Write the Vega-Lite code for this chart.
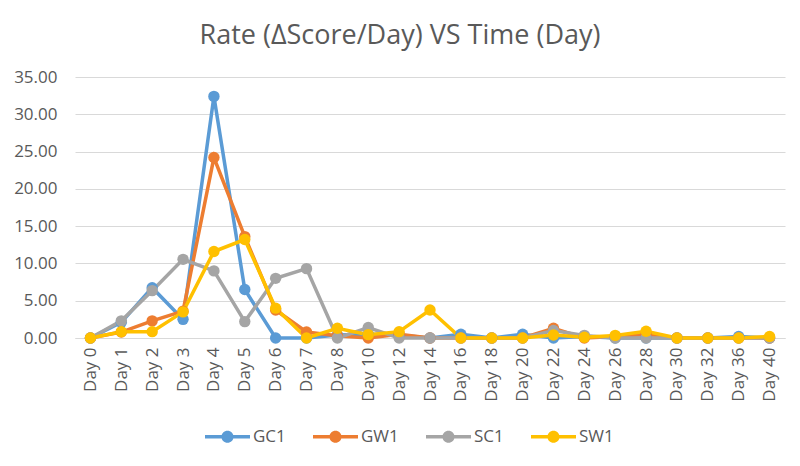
{
  "$schema": "https://vega.github.io/schema/vega-lite/v6.json",
  "width": 710,
  "height": 261,
  "autosize": {"type": "none"},
  "padding": {"left": 75, "top": 77, "right": 15, "bottom": 128},
  "background": "white",
  "title": {
    "text": "Rate (ΔScore/Day) VS Time (Day)",
    "anchor": "middle",
    "frame": "group",
    "dx": -30,
    "offset": 18,
    "font": "Open Sans",
    "fontSize": 27,
    "fontWeight": "normal",
    "color": "#595959"
  },
  "config": {
    "view": {"stroke": null},
    "font": "Open Sans",
    "axis": {"labelFont": "Open Sans", "labelColor": "#595959", "labelFontSize": 17, "gridColor": "#D9D9D9", "domainColor": "#D9D9D9", "ticks": false, "title": null},
    "legend": {"labelFont": "Open Sans", "labelColor": "#595959", "labelFontSize": 17}
  },
  "data": {
    "values": [
      {"day": "Day 0", "series": "GC1", "rate": 0},
      {"day": "Day 1", "series": "GC1", "rate": 2.1},
      {"day": "Day 2", "series": "GC1", "rate": 6.75},
      {"day": "Day 3", "series": "GC1", "rate": 2.5},
      {"day": "Day 4", "series": "GC1", "rate": 32.4},
      {"day": "Day 5", "series": "GC1", "rate": 6.5},
      {"day": "Day 6", "series": "GC1", "rate": 0},
      {"day": "Day 7", "series": "GC1", "rate": 0},
      {"day": "Day 8", "series": "GC1", "rate": 0.4},
      {"day": "Day 10", "series": "GC1", "rate": 0.5},
      {"day": "Day 12", "series": "GC1", "rate": 0.4},
      {"day": "Day 14", "series": "GC1", "rate": 0},
      {"day": "Day 16", "series": "GC1", "rate": 0.5},
      {"day": "Day 18", "series": "GC1", "rate": 0},
      {"day": "Day 20", "series": "GC1", "rate": 0.5},
      {"day": "Day 22", "series": "GC1", "rate": 0},
      {"day": "Day 24", "series": "GC1", "rate": 0.2},
      {"day": "Day 26", "series": "GC1", "rate": 0},
      {"day": "Day 28", "series": "GC1", "rate": 0},
      {"day": "Day 30", "series": "GC1", "rate": 0},
      {"day": "Day 32", "series": "GC1", "rate": 0},
      {"day": "Day 36", "series": "GC1", "rate": 0.2},
      {"day": "Day 40", "series": "GC1", "rate": 0},
      {"day": "Day 0", "series": "GW1", "rate": 0},
      {"day": "Day 1", "series": "GW1", "rate": 0.8},
      {"day": "Day 2", "series": "GW1", "rate": 2.3},
      {"day": "Day 3", "series": "GW1", "rate": 3.6},
      {"day": "Day 4", "series": "GW1", "rate": 24.2},
      {"day": "Day 5", "series": "GW1", "rate": 13.6},
      {"day": "Day 6", "series": "GW1", "rate": 3.75},
      {"day": "Day 7", "series": "GW1", "rate": 0.8},
      {"day": "Day 8", "series": "GW1", "rate": 0.3},
      {"day": "Day 10", "series": "GW1", "rate": 0},
      {"day": "Day 12", "series": "GW1", "rate": 0.5},
      {"day": "Day 14", "series": "GW1", "rate": 0},
      {"day": "Day 16", "series": "GW1", "rate": 0},
      {"day": "Day 18", "series": "GW1", "rate": 0},
      {"day": "Day 20", "series": "GW1", "rate": 0},
      {"day": "Day 22", "series": "GW1", "rate": 1.3},
      {"day": "Day 24", "series": "GW1", "rate": 0},
      {"day": "Day 26", "series": "GW1", "rate": 0.2},
      {"day": "Day 28", "series": "GW1", "rate": 0.5},
      {"day": "Day 30", "series": "GW1", "rate": 0},
      {"day": "Day 32", "series": "GW1", "rate": 0},
      {"day": "Day 36", "series": "GW1", "rate": 0},
      {"day": "Day 40", "series": "GW1", "rate": 0},
      {"day": "Day 0", "series": "SC1", "rate": 0},
      {"day": "Day 1", "series": "SC1", "rate": 2.3},
      {"day": "Day 2", "series": "SC1", "rate": 6.35},
      {"day": "Day 3", "series": "SC1", "rate": 10.55},
      {"day": "Day 4", "series": "SC1", "rate": 9.0},
      {"day": "Day 5", "series": "SC1", "rate": 2.2},
      {"day": "Day 6", "series": "SC1", "rate": 8.0},
      {"day": "Day 7", "series": "SC1", "rate": 9.3},
      {"day": "Day 8", "series": "SC1", "rate": 0},
      {"day": "Day 10", "series": "SC1", "rate": 1.4},
      {"day": "Day 12", "series": "SC1", "rate": 0},
      {"day": "Day 14", "series": "SC1", "rate": 0},
      {"day": "Day 16", "series": "SC1", "rate": 0},
      {"day": "Day 18", "series": "SC1", "rate": 0},
      {"day": "Day 20", "series": "SC1", "rate": 0},
      {"day": "Day 22", "series": "SC1", "rate": 1.0},
      {"day": "Day 24", "series": "SC1", "rate": 0.35},
      {"day": "Day 26", "series": "SC1", "rate": 0},
      {"day": "Day 28", "series": "SC1", "rate": 0},
      {"day": "Day 30", "series": "SC1", "rate": 0},
      {"day": "Day 32", "series": "SC1", "rate": 0},
      {"day": "Day 36", "series": "SC1", "rate": 0},
      {"day": "Day 40", "series": "SC1", "rate": 0},
      {"day": "Day 0", "series": "SW1", "rate": 0},
      {"day": "Day 1", "series": "SW1", "rate": 0.85},
      {"day": "Day 2", "series": "SW1", "rate": 0.85},
      {"day": "Day 3", "series": "SW1", "rate": 3.5},
      {"day": "Day 4", "series": "SW1", "rate": 11.6},
      {"day": "Day 5", "series": "SW1", "rate": 13.2},
      {"day": "Day 6", "series": "SW1", "rate": 4.0},
      {"day": "Day 7", "series": "SW1", "rate": 0},
      {"day": "Day 8", "series": "SW1", "rate": 1.3},
      {"day": "Day 10", "series": "SW1", "rate": 0.45},
      {"day": "Day 12", "series": "SW1", "rate": 0.85},
      {"day": "Day 14", "series": "SW1", "rate": 3.75},
      {"day": "Day 16", "series": "SW1", "rate": 0},
      {"day": "Day 18", "series": "SW1", "rate": 0},
      {"day": "Day 20", "series": "SW1", "rate": 0},
      {"day": "Day 22", "series": "SW1", "rate": 0.4},
      {"day": "Day 24", "series": "SW1", "rate": 0.1},
      {"day": "Day 26", "series": "SW1", "rate": 0.35},
      {"day": "Day 28", "series": "SW1", "rate": 0.9},
      {"day": "Day 30", "series": "SW1", "rate": 0},
      {"day": "Day 32", "series": "SW1", "rate": 0},
      {"day": "Day 36", "series": "SW1", "rate": 0},
      {"day": "Day 40", "series": "SW1", "rate": 0.2}
    ]
  },
  "encoding": {
    "x": {
      "field": "day",
      "type": "nominal",
      "sort": null,
      "scale": {"type": "point", "padding": 0.5},
      "axis": {"labelAngle": -90, "labelPadding": 9, "grid": false, "domain": true}
    },
    "y": {
      "field": "rate",
      "type": "quantitative",
      "scale": {"domain": [0, 35], "nice": false},
      "axis": {"values": [0, 5, 10, 15, 20, 25, 30, 35], "format": ".2f", "domain": false, "labelPadding": 18}
    },
    "color": {
      "field": "series",
      "type": "nominal",
      "scale": {"domain": ["GC1", "GW1", "SC1", "SW1"], "range": ["#5B9BD5", "#ED7D31", "#A5A5A5", "#FFC000"]},
      "legend": {
        "title": null,
        "orient": "none",
        "direction": "horizontal",
        "columns": 4,
        "legendX": 130,
        "legendY": 337,
        "symbolType": "M-1,-0.078L1,-0.078L1,0.078L-1,0.078Z M-0.27,0A0.27,0.27 0 1,1 0.27,0A0.27,0.27 0 1,1 -0.27,0Z",
        "symbolSize": 2025,
        "symbolStrokeWidth": 0,
        "labelOffset": 3,
        "columnPadding": 27,
        "encode": {"symbols": {"update": {"fill": {"scale": "color", "field": "value"}, "fillOpacity": {"value": 1}}}}
      }
    }
  },
  "layer": [
    {"mark": {"type": "line", "strokeWidth": 3.5}},
    {"mark": {"type": "point", "filled": true, "size": 130, "opacity": 1}}
  ]
}
